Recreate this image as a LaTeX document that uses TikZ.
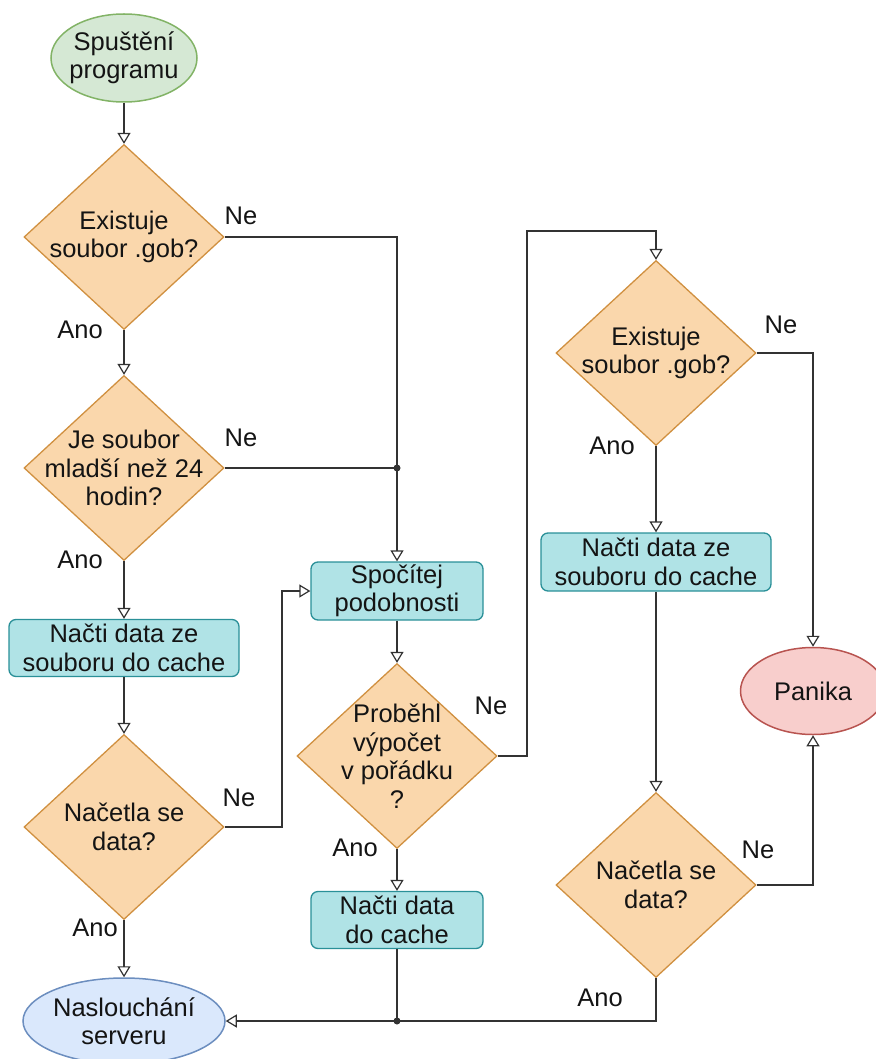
\documentclass[tikz,border=0pt]{standalone}
\usepackage{fontspec}
\setmainfont{Liberation Sans}
\usetikzlibrary{shapes.geometric, arrows.meta}

\definecolor{startfill}{HTML}{D5E8D4}
\definecolor{startline}{HTML}{82B366}
\definecolor{decfill}{HTML}{FAD7AC}
\definecolor{decline}{HTML}{D09040}
\definecolor{procfill}{HTML}{B0E3E6}
\definecolor{procline}{HTML}{2A9098}
\definecolor{endfill}{HTML}{DAE8FC}
\definecolor{endline}{HTML}{6C8EBF}
\definecolor{panfill}{HTML}{F8CECC}
\definecolor{panline}{HTML}{B85450}
\definecolor{linecol}{HTML}{333333}
\definecolor{textcol}{HTML}{141414}

\begin{document}
\begin{tikzpicture}[x=1pt, y=-1pt,
  txt/.style={font=\fontsize{25.5}{28.5}\selectfont, align=center, text=textcol},
  decision/.style={diamond, draw=decline, fill=decfill, line width=1.3pt,
    minimum width=200pt, minimum height=185pt, inner sep=0pt},
  process/.style={rectangle, rounded corners=7pt, draw=procline, fill=procfill,
    line width=1.3pt, inner sep=0pt, txt},
  terminal/.style={ellipse, line width=1.5pt, inner sep=0pt},
  conn/.style={draw=linecol, line width=1.2pt},
  edge/.style={conn, -{Triangle[open, length=11pt, width=13pt, line width=1.2pt]}},
  edgelabel/.style={txt}
]
\useasboundingbox (0,0) rectangle (875,1059);

% terminals
\node[terminal, draw=startline, fill=startfill, minimum width=146pt, minimum height=88pt,
  label={[txt]center:Spuštění\\programu}] (start) at (124,58) {};
\node[terminal, draw=endline, fill=endfill, minimum width=202pt, minimum height=86pt,
  label={[txt]center:Naslouchání\\serveru}] (srv) at (124,1021) {};
\node[terminal, draw=panline, fill=panfill, minimum width=145pt, minimum height=87pt,
  label={[txt]center:Panika}] (pan) at (813,691) {};

% left column
\node[decision, label={[txt]center:Existuje\\soubor .gob?}] (d1) at (124,237) {};
\node[decision, label={[txt]center:Je soubor\\mladší než 24\\hodin?}] (d2) at (124,468) {};
\node[process, minimum width=230pt, minimum height=57pt] (p1) at (124,648)
  {Načti data ze\\souboru do cache};
\node[decision, label={[txt]center:Načetla se\\data?}] (d3) at (124,827) {};

% middle column
\node[process, minimum width=172pt, minimum height=58pt] (p2) at (397,591)
  {Spočítej\\podobnosti};
\node[decision, label={[txt]center:Proběhl\\výpočet\\v pořádku\\?}] (d4) at (397,756) {};
\node[process, minimum width=172pt, minimum height=57pt] (p3) at (397,920)
  {Načti data\\do cache};

% right column
\node[decision, label={[txt]center:Existuje\\soubor .gob?}] (d5) at (656,353) {};
\node[process, minimum width=230pt, minimum height=58pt] (p4) at (656,562)
  {Načti data ze\\souboru do cache};
\node[decision, label={[txt]center:Načetla se\\data?}] (d6) at (656,885) {};

% bend and junction points
\coordinate (j1) at (397,468);
\coordinate (j2) at (397,1021);
\coordinate (k3) at (282,591);
\coordinate (k4) at (527,231);

% connectors
\draw[edge] (start) -- (d1);
\draw[edge] (d1) -- (d2);
\draw[edge] (d2) -- (p1);
\draw[edge] (p1) -- (d3);
\draw[edge] (d3) -- (srv);
\draw[conn] (d1.east) -| (j1);
\draw[conn] (d2.east) -- (j1);
\draw[edge] (j1) -- (p2);
\draw[edge] (d3.east) -| (k3) -- (p2.west);
\draw[edge] (p2) -- (d4);
\draw[edge] (d4) -- (p3);
\draw[conn] (p3) -- (j2);
\draw[edge] (d4.east) -| (k4) -| (d5.north);
\draw[edge] (d5) -- (p4);
\draw[edge] (p4) -- (d6);
\draw[edge] (d5.east) -| (pan.north);
\draw[edge] (d6.east) -| (pan.south);
\draw[edge] (d6.south) |- (srv.east);
\fill[linecol] (j1) circle (3.5pt);
\fill[linecol] (j2) circle (3.5pt);

% branch labels
\node[edgelabel] (l1) at (241,216) {Ne};
\node[edgelabel] (l2) at (80,330) {Ano};
\node[edgelabel] (l3) at (241,438) {Ne};
\node[edgelabel] (l4) at (80,560) {Ano};
\node[edgelabel] (l5) at (239,798) {Ne};
\node[edgelabel] (l6) at (95,928) {Ano};
\node[edgelabel] (l7) at (491,706) {Ne};
\node[edgelabel] (l8) at (355,848) {Ano};
\node[edgelabel] (l9) at (781,325) {Ne};
\node[edgelabel] (l10) at (612,446) {Ano};
\node[edgelabel] (l11) at (758,850) {Ne};
\node[edgelabel] (l12) at (600,998) {Ano};
\end{tikzpicture}
\end{document}
